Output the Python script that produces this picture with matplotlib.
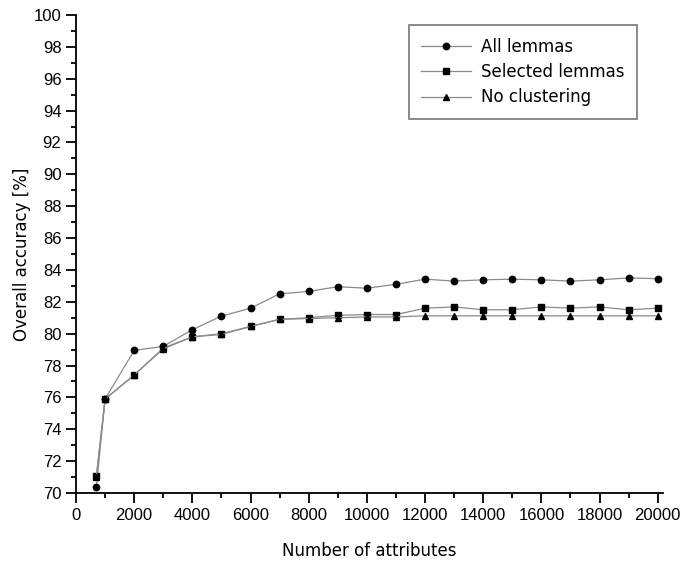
import matplotlib
matplotlib.use("Agg")
import matplotlib.pyplot as plt
from matplotlib.ticker import MultipleLocator

plt.rcParams["font.family"] = ["Liberation Sans", "DejaVu Sans"]

x = [700, 1000, 2000, 3000, 4000, 5000, 6000, 7000, 8000, 9000, 10000,
     11000, 12000, 13000, 14000, 15000, 16000, 17000, 18000, 19000, 20000]
all_lemmas = [70.4, 75.9, 78.95, 79.2, 80.25, 81.1, 81.6, 82.5, 82.65, 82.95, 82.85,
              83.1, 83.42, 83.3, 83.38, 83.42, 83.38, 83.3, 83.38, 83.5, 83.45]
selected_lemmas = [71.05, 75.9, 77.4, 79.1, 79.8, 80.0, 80.45, 80.9, 81.0, 81.15, 81.2,
                   81.2, 81.6, 81.68, 81.5, 81.5, 81.68, 81.6, 81.68, 81.5, 81.6]
no_clustering = [71.0, 75.9, 77.4, 79.05, 79.8, 79.95, 80.45, 80.9, 80.95, 81.0, 81.05,
                 81.05, 81.12, 81.12, 81.12, 81.12, 81.12, 81.12, 81.12, 81.12, 81.12]
series_labels = ["All lemmas", "Selected lemmas", "No clustering"]

fig = plt.figure(figsize=(6.83, 5.65), dpi=100)
ax = fig.add_axes([76/683, 1-493/565, (663-76)/683, (493-15)/565])

line_col = "#8a8a8a"
for y, m, lab, ms in [(all_lemmas, "o", series_labels[0], 4.6),
                      (selected_lemmas, "s", series_labels[1], 4.2),
                      (no_clustering, "^", series_labels[2], 5.0)]:
    ax.plot(x, y, color=line_col, lw=0.9, marker=m, ms=ms,
            mfc="black", mec="black", label=lab)

ax.set_xlim(0, 20180)
ax.set_ylim(70, 100)
ax.xaxis.set_major_locator(MultipleLocator(2000))
ax.xaxis.set_minor_locator(MultipleLocator(1000))
ax.yaxis.set_major_locator(MultipleLocator(2))
ax.yaxis.set_minor_locator(MultipleLocator(1))
ax.spines["top"].set_visible(False)
ax.spines["right"].set_visible(False)
for s in ["left", "bottom"]:
    ax.spines[s].set_linewidth(1.3)
ax.tick_params(which="major", direction="out", length=7, width=1.3, labelsize=12)
ax.tick_params(which="minor", direction="out", length=3.5, width=1.3)

ax.set_xlabel("Number of attributes", fontsize=12, family="DejaVu Sans", labelpad=14)
ax.set_ylabel("Overall accuracy [%]", fontsize=12, family="DejaVu Sans", labelpad=2)

leg = ax.legend(loc="upper right", bbox_to_anchor=(637/683, 1-25/565),
                bbox_transform=fig.transFigure, frameon=True, fancybox=False,
                prop={"family": "DejaVu Sans", "size": 12}, handlelength=3.0,
                handletextpad=0.6, borderpad=0.75, labelspacing=0.45, borderaxespad=0)
leg.get_frame().set_edgecolor("#555555")
leg.get_frame().set_linewidth(1.2)

fig.savefig("out.png", dpi=100)
